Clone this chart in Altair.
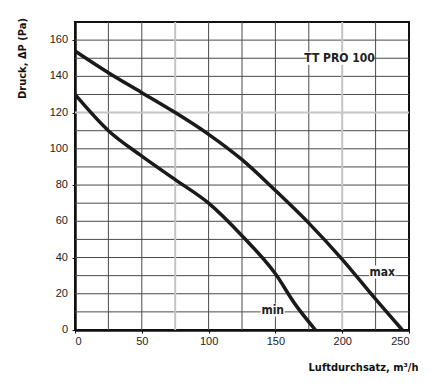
import altair as alt
import pandas as pd

# Data
max_flow = [0, 25, 50, 75, 100, 125, 150, 175, 200, 225, 245]
max_pres = [154, 142, 131, 120, 108, 94, 77, 59, 39, 17, 0]
min_flow = [0, 25, 50, 75, 100, 125, 150, 165, 180]
min_pres = [130, 110, 96, 83, 70, 52, 31, 14, 0]

label_text = ["max", "min", "TT PRO 100"]
label_x = [230, 148, 198]
label_y = [32, 11, 150]
label_w = [26, 24, 66]

x_ticks = [0, 50, 100, 150, 200, 250]
y_ticks = [0, 20, 40, 60, 80, 100, 120, 140, 160]
x_grid = [25, 50, 100, 125, 150, 175, 225]
y_grid = [10, 20, 30, 40, 50, 60, 70, 80, 90, 100, 110, 130, 140, 150, 160]
x_light = [75, 200]
y_light = [120]

curves = pd.concat([
    pd.DataFrame({"flow": max_flow, "p": max_pres, "s": "max"}),
    pd.DataFrame({"flow": min_flow, "p": min_pres, "s": "min"}),
])
labels = pd.DataFrame({"t": label_text, "x": label_x, "y": label_y})

FONT = "Liberation Sans, Arial, sans-serif"
TFONT = "Liberation Sans Narrow, DejaVu Sans Condensed, Liberation Sans, sans-serif"

xscale = alt.Scale(domain=[0, 250], nice=False)
yscale = alt.Scale(domain=[0, 170], nice=False)

xaxis = alt.Axis(
    values=x_ticks, labelOverlap=False, grid=False,
    domainColor="#111111", domainWidth=2.5,
    ticks=True, tickColor="#111111", tickSize=3, tickWidth=1,
    labelFont=FONT, labelFontSize=11, labelColor="#222222", labelPadding=2,
    title="Luftdurchsatz, m³/h", titleFont=TFONT, titleFontSize=11, titleFontWeight="bold",
    titleColor="#111111", titleX=288, titleY=37, titleAlign="center", titleBaseline="middle",
)
yaxis = alt.Axis(
    values=y_ticks, labels=False, grid=False,
    domainColor="#111111", domainWidth=2.5,
    ticks=True, tickColor="#111111", tickSize=3, tickWidth=1,
    title="Druck, ΔP (Pa)", titleFont=TFONT, titleFontSize=11, titleFontWeight="bold",
    titleColor="#111111", titleX=-53, titleY=36, titleAngle=-90, titleAlign="center",
    titleBaseline="middle",
)

vgrid = alt.Chart(pd.DataFrame({"v": x_grid})).mark_rule(color="#4a4a4a", strokeWidth=1).encode(
    x=alt.X("v:Q", scale=xscale, axis=xaxis)
)
hgrid = alt.Chart(pd.DataFrame({"v": y_grid})).mark_rule(color="#4a4a4a", strokeWidth=1).encode(
    y=alt.Y("v:Q", scale=yscale, axis=yaxis)
)
vl = alt.Chart(pd.DataFrame({"v": x_light})).mark_rule(color="#c4c4c4", strokeWidth=2).encode(
    x=alt.X("v:Q", scale=xscale, axis=xaxis)
)
hl = alt.Chart(pd.DataFrame({"v": y_light})).mark_rule(color="#c4c4c4", strokeWidth=2).encode(
    y=alt.Y("v:Q", scale=yscale, axis=yaxis)
)

# y tick labels placed through the y scale
ylabels = alt.Chart(pd.DataFrame({"v": y_ticks})).mark_text(
    font=FONT, fontSize=11, color="#222222", align="right", baseline="middle"
).encode(
    y=alt.Y("v:Q", scale=yscale, axis=yaxis),
    x=alt.value(-7),
    text=alt.Text("v:Q"),
)

lines = alt.Chart(curves).mark_line(color="#1a1a1a", strokeWidth=3.5, interpolate="monotone").encode(
    x=alt.X("flow:Q", scale=xscale, axis=xaxis),
    y=alt.Y("p:Q", scale=yscale, axis=yaxis),
    detail="s:N",
)

bgs = []
for t, w in zip(label_text, label_w):
    bgs.append(
        alt.Chart(labels).transform_filter(alt.datum.t == t)
        .mark_rect(color="white", height=13, width=w)
        .encode(x=alt.X("x:Q", scale=xscale), y=alt.Y("y:Q", scale=yscale))
    )
txt = alt.Chart(labels).mark_text(font=TFONT, fontSize=12, fontWeight="bold", color="#222222").encode(
    x=alt.X("x:Q", scale=xscale),
    y=alt.Y("y:Q", scale=yscale),
    text="t:N",
)

chart = alt.layer(vgrid, hgrid, vl, hl, lines, *bgs, txt, ylabels).properties(
    width=334, height=308,
    autosize=alt.AutoSizeParams(type="none"),
    padding={"left": 67, "top": 14, "right": 25, "bottom": 50},
    background="white",
).configure_view(stroke="#111111", strokeWidth=2)

chart.save("out.html", embed_options={"renderer": "svg", "actions": False})
